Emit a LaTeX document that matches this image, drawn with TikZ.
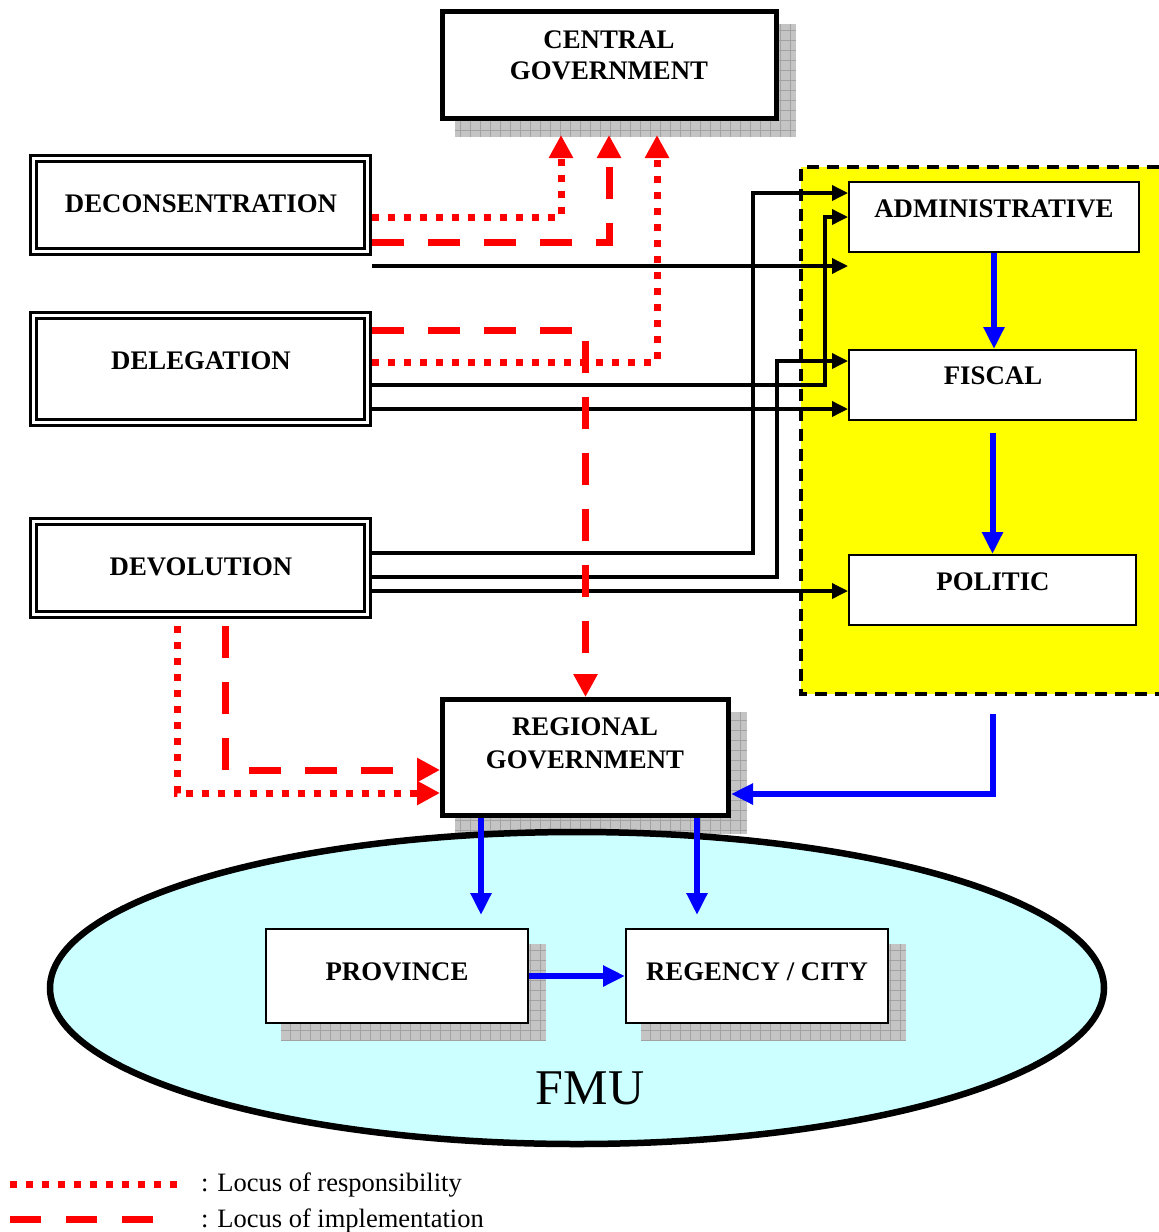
\documentclass[tikz,border=0pt]{standalone}
\usepackage{fontspec}
\setmainfont{Liberation Serif}
\usetikzlibrary{arrows.meta,calc}
\definecolor{fmucyan}{HTML}{CCFFFF}
\definecolor{shadegray}{HTML}{C4C4C4}
\definecolor{shadeline}{HTML}{A2A2A2}
\definecolor{redline}{HTML}{FF0000}
\definecolor{blueline}{HTML}{0000FF}
\definecolor{zoneyellow}{HTML}{FFFF00}
\newcommand\grayshadow[4]{%
  \fill[shadegray] (#1,#2) rectangle (#3,#4);
  \begin{scope}
    \clip (#1,#2) rectangle (#3,#4);
    \draw[shadeline, line width=0.7pt, step=10pt] (#1,#4) grid (#3,#2);
  \end{scope}}
\begin{document}
\begin{tikzpicture}[x=1pt,y=-1pt,
  boxtext/.style={font=\fontsize{26.8}{31}\selectfont\bfseries, inner sep=0pt, align=center},
  dblbox/.style={draw, line width=3pt, double, double distance=3pt, inner sep=0pt, outer sep=4.5pt},
  thickbox/.style={draw, line width=5pt, fill=white, inner sep=0pt, outer sep=2.5pt},
  thinbox/.style={draw, line width=2pt, fill=white, inner sep=0pt, outer sep=1pt},
  blk/.style={line width=3.5pt, -{Triangle[length=16pt,width=15pt]}},
  blu/.style={blueline, line width=6pt, -{Triangle[length=22pt,width=20pt]}},
  reddot/.style={redline, line width=7pt, dash pattern=on 7pt off 9pt, -{Triangle[length=23pt,width=23pt]}},
  reddash/.style={redline, line width=7pt, dash pattern=on 32pt off 24pt, -{Triangle[length=23pt,width=23pt]}},
  legdot/.style={redline, line width=7pt, dash pattern=on 7pt off 9pt},
  legdash/.style={redline, line width=7pt, dash pattern=on 31pt off 25pt},
  legtext/.style={anchor=base west, font=\fontsize{26.5}{30}\selectfont, inner sep=0pt}
]
\useasboundingbox (0,0) rectangle (1159,1232);
\fill[white] (0,0) rectangle (1159,1232);

% yellow zone
\node[fill=zoneyellow, minimum width=358, minimum height=527, inner sep=0pt, anchor=north west] (zone) at (801,167) {};
\draw[line width=4pt, dash pattern=on 12pt off 8pt] (zone.north east) -- (zone.north west) -- (zone.south west) -- (zone.south east);

% regional shadow and FMU ellipse
\grayshadow{455}{712}{747}{834}
\draw[fill=fmucyan, line width=6.5pt] (577,988) ellipse [x radius=527pt, y radius=156pt];

% other shadows
\grayshadow{455}{24}{796}{137}
\grayshadow{281}{944}{546}{1040}
\grayshadow{641}{944}{906}{1040}

% boxes
\node[thickbox, minimum width=334, minimum height=107] (central) at (609.5,65) {};
\node[thickbox, minimum width=286, minimum height=116] (regional) at (585.5,757.5) {};
\node[dblbox, minimum width=334, minimum height=93] (decon) at (200.5,205) {};
\node[dblbox, minimum width=334, minimum height=107] (deleg) at (200.5,369) {};
\node[dblbox, minimum width=334, minimum height=93] (devol) at (200.5,568) {};
\node[thinbox, minimum width=290, minimum height=70] (admin) at (994,217) {};
\node[thinbox, minimum width=287, minimum height=70] (fiscal) at (992.5,385) {};
\node[thinbox, minimum width=287, minimum height=70] (politic) at (992.5,590) {};
\node[thinbox, minimum width=262, minimum height=94] (province) at (397,976) {};
\node[thinbox, minimum width=262, minimum height=94] (regency) at (757,976) {};

% texts
\node[boxtext] (centralt) at (609,55.5) {CENTRAL\\GOVERNMENT};
\node[boxtext, font=\fontsize{26.8}{33}\selectfont\bfseries] (regionalt) at (585,743.5) {REGIONAL\\GOVERNMENT};
\node[boxtext] (decont) at (201,204) {DECONSENTRATION};
\node[boxtext] (delegt) at (201,361) {DELEGATION};
\node[boxtext] (devolt) at (201,567) {DEVOLUTION};
\node[boxtext] (admint) at (994,209) {ADMINISTRATIVE};
\node[boxtext] (fiscalt) at (993,376) {FISCAL};
\node[boxtext] (politict) at (993,582) {POLITIC};
\node[boxtext] (provincet) at (397,972) {PROVINCE};
\node[boxtext] (regencyt) at (757,972) {REGENCY / CITY};
\node[font=\fontsize{50}{50}\selectfont, inner sep=0pt] (fmut) at (590,1088) {FMU};

% black connectors
\draw[blk] (decon.east |- 0,266) -- (admin.west |- 0,266);
\draw[blk] (deleg.east |- 0,385) -| (825,217) -- (admin.west |- 0,217);
\draw[blk] (deleg.east |- 0,409) -- (fiscal.west |- 0,409);
\draw[blk] (devol.east |- 0,553) -| (753,193) -- (admin.west |- 0,193);
\draw[blk] (devol.east |- 0,577) -| (777,361) -- (fiscal.west |- 0,361);
\draw[blk] (devol.east |- 0,591) -- (politic.west |- 0,591);

% red connectors
\coordinate (cg1) at (561,135);
\coordinate (cg2) at (609,135);
\coordinate (cg3) at (657,135);
\draw[reddot] (decon.east |- 0,217) -| (cg1);
\draw[reddash] (decon.east |- 0,242) -| (cg2);
\draw[reddot] (deleg.east |- 0,362) -| (cg3);
\draw[reddash] (deleg.east |- 0,330) -| (regional.north);
\draw[reddot] ($(devol.south -| 177,0)+(0,7)$) |- (regional.west |- 0,793);
\draw[reddash] ($(devol.south -| 225,0)+(0,7)$) |- (regional.west |- 0,770);

% blue connectors
\draw[blu] (admin.south) -- (admin.south |- fiscal.north);
\draw[blu] ($(fiscal.south)+(0,12)$) -- (politic.north);
\draw[blu] ($(zone.south -| politic.south)+(0,20)$) |- (regional.east |- 0,794);
\draw[blu] (regional.south -| 481,0) -- ($(province.north -| 481,0)+(0,-13)$);
\draw[blu] (regional.south -| 697,0) -- ($(regency.north -| 697,0)+(0,-13)$);
\draw[blu] (province.east |- 0,976) -- (regency.west |- 0,976);

% legend
\coordinate (l1a) at (10,1184);
\coordinate (l1b) at (177,1184);
\coordinate (l2a) at (10,1219);
\coordinate (l2b) at (153,1219);
\draw[legdot] (l1a) -- (l1b);
\draw[legdash] (l2a) -- (l2b);
\node[legtext] (leg1) at (201,1191) {: Locus of responsibility};
\node[legtext] (leg2) at (201,1227) {: Locus of implementation};
\end{tikzpicture}
\end{document}
